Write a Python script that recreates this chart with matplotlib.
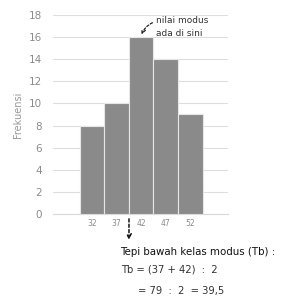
import matplotlib.pyplot as plt
from matplotlib.patches import FancyArrowPatch

# data kelas
kelas = [32, 37, 42, 47, 52]
frekuensi = [8, 10, 16, 14, 9]
yticks = [0, 2, 4, 6, 8, 10, 12, 14, 16, 18]

fig = plt.figure(figsize=(2.85, 3.0), dpi=100)
ax = fig.add_axes([0.186, 0.287, 0.614, 0.663])

ax.bar(kelas, frekuensi, width=5, color='#8a8a8a', edgecolor='#e6e6e6', linewidth=0.8, zorder=3)

ax.set_xlim(24.0, 59.7)
ax.set_ylim(0, 18)
ax.set_yticks(yticks)
ax.set_xticks(kelas)
ax.set_xticklabels([str(k) for k in kelas])
ax.tick_params(axis='y', length=0, labelsize=7.5, labelcolor='#8c8c8c', pad=8)
ax.tick_params(axis='x', length=0, labelsize=5.5, labelcolor='#8c8c8c', pad=4)
ax.grid(axis='y', color='#dedede', linewidth=0.8, zorder=0)
for s in ['top', 'right', 'left']:
    ax.spines[s].set_visible(False)
ax.spines['bottom'].set_color('#d9d9d9')
ax.set_ylabel('Frekuensi', fontsize=7, color='#999999', labelpad=4)

# anotasi modus
ax.text(45.0, 17.9, 'nilai modus\nada di sini', fontsize=6.5, color='#333333',
        va='top', ha='left', linespacing=1.6)
arr = FancyArrowPatch((44.8, 17.4), (41.9, 16.0), connectionstyle='arc3,rad=0.25',
                      arrowstyle='->', mutation_scale=7, linestyle=(0, (2, 1.5)),
                      color='#222222', lw=0.9, zorder=5)
ax.add_patch(arr)

# garis tepi bawah
ax.annotate('', xy=(39.5, -2.6), xytext=(39.5, -0.2), annotation_clip=False,
            arrowprops=dict(arrowstyle='->', linestyle=(0, (2, 1.5)), color='#111111',
                            lw=1.1, mutation_scale=8))

fig.text(0.42, 0.16, 'Tepi bawah kelas modus (Tb) :', fontsize=7.4, color='#111111', va='center')
fig.text(0.425, 0.103, 'Tb = (37 + 42)  :  2', fontsize=7.2, color='#333333', va='center')
fig.text(0.485, 0.03, '= 79  :  2  = 39,5', fontsize=7.2, color='#333333', va='center')

fig.savefig('out.png', dpi=100)
